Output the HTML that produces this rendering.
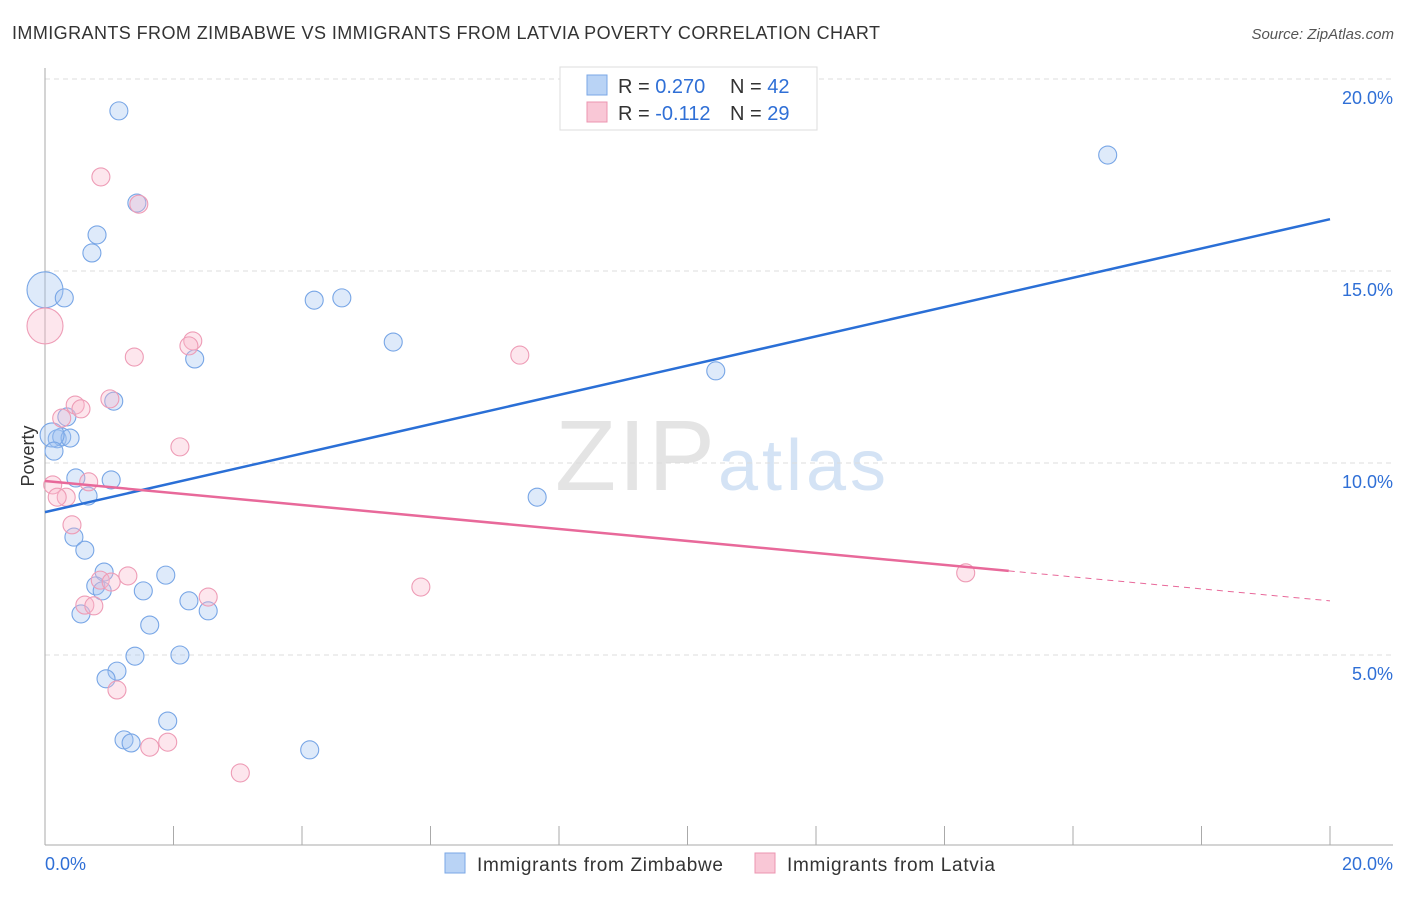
<!DOCTYPE html>
<html><head><meta charset="utf-8"><style>
body{margin:0;background:#fff;font-family:"Liberation Sans",sans-serif;}
svg text{font-family:"Liberation Sans",sans-serif;}
</style></head><body>
<svg id="c" width="1406" height="892">
<text x="12" y="39" font-size="18" fill="#333" textLength="868">IMMIGRANTS FROM ZIMBABWE VS IMMIGRANTS FROM LATVIA POVERTY CORRELATION CHART</text>
<text x="1394" y="39" font-size="15" fill="#555" text-anchor="end" font-style="italic">Source: ZipAtlas.com</text>
<text x="555" y="490" font-size="100" fill="#e4e4e4" textLength="160" font-family="Liberation Serif">ZIP</text>
<text x="718" y="490" font-size="72" fill="#d4e3f5" textLength="168">atlas</text>
<text transform="translate(34,456) rotate(-90)" font-size="18" fill="#333" text-anchor="middle">Poverty</text>
<g id="grid"></g><g id="pts"></g><g id="lines"></g>
<g>
<rect x="560" y="67" width="257" height="63" fill="#fff" stroke="#ddd"/>
<rect x="587" y="75" width="20" height="20" fill="#b9d3f5" stroke="#7aa7e6"/>
<rect x="587" y="102" width="20" height="20" fill="#f9c7d6" stroke="#ec94b0"/>
<text x="618" y="93" font-size="20" fill="#333">R = <tspan fill="#2f6fd6">0.270</tspan></text>
<text x="730" y="93" font-size="20" fill="#333">N = <tspan fill="#2f6fd6">42</tspan></text>
<text x="618" y="120" font-size="20" fill="#333">R = <tspan fill="#2f6fd6">-0.112</tspan></text>
<text x="730" y="120" font-size="20" fill="#333">N = <tspan fill="#2f6fd6">29</tspan></text>
</g>
<g>
<rect x="445" y="853" width="20" height="20" fill="#b9d3f5" stroke="#7aa7e6"/>
<text x="477" y="871" font-size="19" fill="#333" textLength="246">Immigrants from Zimbabwe</text>
<rect x="755" y="853" width="20" height="20" fill="#f9c7d6" stroke="#ec94b0"/>
<text x="787" y="871" font-size="19" fill="#333" textLength="208">Immigrants from Latvia</text>
</g>
<text x="45" y="870" font-size="18" fill="#2f6fd6">0.0%</text>
<text x="1393" y="870" font-size="18" fill="#2f6fd6" text-anchor="end">20.0%</text>
</svg>
<script>
const blueX=[1.15,16.54,1.43,0.81,0.73,0,0.30,4.19,4.62,5.42,2.33,10.44,1.07,0.34,0.19,0.26,0.39,0.11,0.14,0.48,1.03,0.67,7.66,0.45,0.62,0.92,1.88,0.79,0.89,1.53,2.24,2.54,0.56,1.63,1.40,2.10,1.12,0.95,1.91,1.23,1.34,4.12];
const blueY=[19.17,18.02,16.77,15.94,15.47,14.51,14.30,14.24,14.30,13.15,12.71,12.40,11.61,11.20,10.63,10.68,10.65,10.73,10.31,9.61,9.56,9.14,9.11,8.07,7.73,7.16,7.08,6.80,6.67,6.67,6.41,6.15,6.07,5.78,4.97,5.00,4.58,4.38,3.28,2.79,2.71,2.53];
const blueR=[9,9,9,9,9,18,9,9,9,9,9,9,9,9,9,9,9,12,9,9,9,9,9,9,9,9,9,9,9,9,9,9,9,9,9,9,9,9,9,9,9,9];
const pinkX=[0.87,1.46,0,2.30,2.24,1.39,7.39,1.01,0.47,0.56,0.26,2.10,0.12,0.68,0.33,0.19,0.42,0.86,1.03,1.29,14.33,5.85,2.54,0.62,0.76,1.12,1.91,1.63,3.04];
const pinkY=[17.45,16.74,13.57,13.18,13.05,12.76,12.81,11.67,11.51,11.41,11.17,10.42,9.43,9.51,9.11,9.11,8.39,6.95,6.90,7.06,7.14,6.77,6.51,6.30,6.28,4.09,2.73,2.60,1.93];
const pinkR=[9,9,18,9,9,9,9,9,9,9,9,9,9,9,9,9,9,9,9,9,9,9,9,9,9,9,9,9,9];
const yTicks=[5,10,15,20];
const yTickLabels=["5.0%","10.0%","15.0%","20.0%"];
const xTicks=[0,2,4,6,8,10,12,14,16,18,20];
const blueTrend=[[0,8.72],[20,16.35]];
const pinkTrend=[[0,9.53],[15,7.19],[20,6.41]];
const NS="http://www.w3.org/2000/svg";
const sx=v=>45+v*64.25, sy=v=>847-v*38.4;
function mk(t,a,p){const e=document.createElementNS(NS,t);for(const k in a)e.setAttribute(k,a[k]);p.appendChild(e);return e;}
const g=document.getElementById('grid');
yTicks.forEach((t,i)=>{
 const l=mk('line',{x1:45,x2:1393,y1:sy(t),y2:sy(t),stroke:'#ddd','stroke-dasharray':'5,4'},g);
 
 
 const tx=mk('text',{x:1393,y:sy(t)+25,'font-size':18,fill:'#2f6fd6','text-anchor':'end'},g);
 tx.textContent=yTickLabels[i];
 
 
});
const ax=mk('line',{x1:45,x2:45,y1:68,y2:845,stroke:'#aaa'},g);


const bx=mk('line',{x1:45,x2:1393,y1:845,y2:845,stroke:'#aaa'},g);


xTicks.forEach(t=>{
 const l=mk('line',{x1:sx(t),x2:sx(t),y1:826,y2:845,stroke:'#aaa'},g);
 
 
});
const p=document.getElementById('pts');
blueX.forEach((x,i)=>{
 const c=mk('circle',{cx:sx(x),cy:sy(blueY[i]),r:blueR[i],fill:'rgba(160,196,240,0.35)',stroke:'#78a6e6','stroke-width':1.1},p);
 
 
});
pinkX.forEach((x,i)=>{
 const c=mk('circle',{cx:sx(x),cy:sy(pinkY[i]),r:pinkR[i],fill:'rgba(248,184,204,0.35)',stroke:'#ee9cb6','stroke-width':1.1},p);
 
 
});
const L=document.getElementById('lines');
const b=mk('line',{x1:sx(blueTrend[0][0]),y1:sy(blueTrend[0][1]),x2:sx(blueTrend[1][0]),y2:sy(blueTrend[1][1]),stroke:'#2a6fd6','stroke-width':2.5},L);


const k1=mk('line',{x1:sx(pinkTrend[0][0]),y1:sy(pinkTrend[0][1]),x2:sx(pinkTrend[1][0]),y2:sy(pinkTrend[1][1]),stroke:'#e8699a','stroke-width':2.5},L);


const k2=mk('line',{x1:sx(pinkTrend[1][0]),y1:sy(pinkTrend[1][1]),x2:sx(pinkTrend[2][0]),y2:sy(pinkTrend[2][1]),stroke:'#e8699a','stroke-width':1,'stroke-dasharray':'6,5'},L);


</script>
</body></html>
